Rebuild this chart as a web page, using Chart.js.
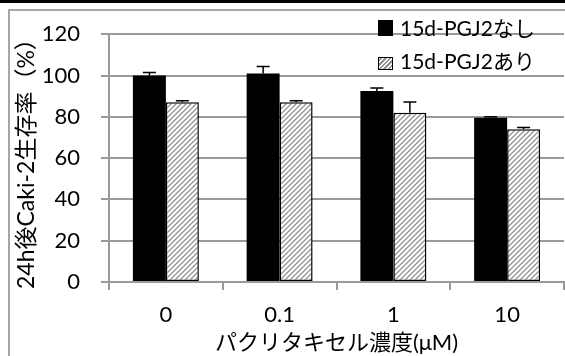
<!DOCTYPE html>
<html>
<head>
<meta charset="utf-8">
<script src="https://cdn.jsdelivr.net/npm/chart.js@4"></script>
<style>
  html, body { margin: 0; padding: 0; background: #fff; }
  body { width: 565px; height: 356px; position: relative; overflow: hidden;
         font-family: Lato, "Noto Sans CJK JP", sans-serif; }
  #topbar { position: absolute; left: 0; top: 0; width: 565px; height: 3px; background: #000; }
  #frame { position: absolute; left: 8px; top: 9px; width: 620px; height: 400px;
           border: 2px solid #a6a6a6; box-sizing: border-box; }
  #wrap { position: absolute; left: 0; top: 0; width: 565px; height: 356px; }
  .leg { position: absolute; left: 378px; height: 26px; display: flex; align-items: center;
         font-size: 21px; color: #000; white-space: nowrap; }
  .sw { display: inline-block; margin-right: 7px; box-sizing: border-box; }
  .sw.solid { width: 15px; height: 16px; background: #000; margin-top: 2px; }
  .sw.hatch { width: 15px; height: 13px; border: 1.5px solid #000; margin-top: 6px;
              background: repeating-linear-gradient(-45deg, #fff 0 1.6px, #8f8f8f 1.6px 3.2px); }
</style>
</head>
<body>
<div id="topbar"></div>
<div id="frame"></div>
<div id="wrap"><canvas id="c" width="565" height="356"></canvas></div>
<div class="leg" id="leg1" style="top:14px;"><span class="sw solid"></span><span id="lt1"></span></div>
<div class="leg" id="leg2" style="top:47px;"><span class="sw hatch"></span><span id="lt2"></span></div>
<script>
// paclitaxel concentration groups
const categories = ['0', '0.1', '1', '10'];
const seriesNames = ['15d-PGJ2なし', '15d-PGJ2あり'];
// viability after 24 h (%)
const withoutPGJ2 = [100, 101, 92.5, 79.5];
const withoutPGJ2Err = [1.5, 3.3, 1.5, 0.5];
const withPGJ2 = [87, 87, 82, 74];
const withPGJ2Err = [0.8, 0.8, 5.2, 0.8];
const yTicks = [0, 20, 40, 60, 80, 100, 120];
const yTitle = '24h後Caki-2生存率（%）';
const xTitle = 'パクリタキセル濃度(μM)';

document.getElementById('lt1').textContent = seriesNames[0];
document.getElementById('lt2').textContent = seriesNames[1];

const FONT = 'Lato, "Noto Sans CJK JP", sans-serif';
const GRID = '#9a9a9a';

// diagonal hatch fill
function hatchPattern() {
  const s = 5;
  const t = document.createElement('canvas');
  t.width = s; t.height = s;
  const g = t.getContext('2d');
  g.fillStyle = '#fff';
  g.fillRect(0, 0, s, s);
  g.strokeStyle = '#959595';
  g.lineWidth = 1.4;
  g.beginPath();
  g.moveTo(-1, s + 1); g.lineTo(s + 1, -1);
  g.moveTo(-1, 1); g.lineTo(1, -1);
  g.moveTo(s - 1, s + 1); g.lineTo(s + 1, s - 1);
  g.stroke();
  return g.createPattern(t, 'repeat');
}

const errorBars = {
  id: 'errorBars',
  afterDatasetsDraw(chart) {
    const ctx = chart.ctx;
    const y = chart.scales.y;
    chart.data.datasets.forEach((ds, i) => {
      const meta = chart.getDatasetMeta(i);
      meta.data.forEach((el, j) => {
        const v = ds.data[j], e = ds.errors[j];
        const yt = y.getPixelForValue(v + e);
        ctx.save();
        ctx.strokeStyle = '#000';
        ctx.lineWidth = 1.5;
        ctx.beginPath();
        ctx.moveTo(el.x, el.y);
        ctx.lineTo(el.x, yt);
        ctx.moveTo(el.x - 6.5, yt);
        ctx.lineTo(el.x + 6.5, yt);
        ctx.stroke();
        ctx.restore();
      });
    });
  }
};

new Chart(document.getElementById('c'), {
  type: 'bar',
  data: {
    labels: categories,
    datasets: [
      { label: seriesNames[0], data: withoutPGJ2, errors: withoutPGJ2Err,
        backgroundColor: '#000', borderWidth: 0,
        categoryPercentage: 0.58, barPercentage: 1 },
      { label: seriesNames[1], data: withPGJ2, errors: withPGJ2Err,
        backgroundColor: hatchPattern(), borderColor: '#000', borderWidth: 1.5,
        borderSkipped: false, categoryPercentage: 0.58, barPercentage: 1 }
    ]
  },
  options: {
    responsive: false,
    animation: false,
    layout: { padding: { top: 24, right: 1, left: 0, bottom: 0 } },
    plugins: { legend: { display: false }, tooltip: { enabled: false } },
    scales: {
      x: {
        offset: true,
        grid: { offset: true, drawOnChartArea: false, drawTicks: true, tickLength: 8,
                color: GRID, lineWidth: 2 },
        border: { color: GRID, width: 2 },
        ticks: { color: '#000', font: { family: FONT, size: 22 }, padding: 12 },
        title: { display: true, text: xTitle, color: '#000',
                 font: { family: FONT, size: 22 }, padding: { top: 0, bottom: 0 } },
        afterFit(s) { s.height = 74; }
      },
      y: {
        min: 0, max: 120,
        afterBuildTicks(s) { s.ticks = yTicks.map(v => ({ value: v })); },
        grid: { color: GRID, lineWidth: 2, tickLength: 8 },
        border: { color: GRID, width: 2 },
        ticks: { color: '#000', font: { family: FONT, size: 22 }, padding: 21 },
        title: { display: true, text: yTitle, color: '#000',
                 font: { family: FONT, size: 23 }, padding: { top: 13, bottom: 0 } },
        afterFit(s) { s.width = 109; }
      }
    }
  },
  plugins: [errorBars]
});
</script>
</body>
</html>
